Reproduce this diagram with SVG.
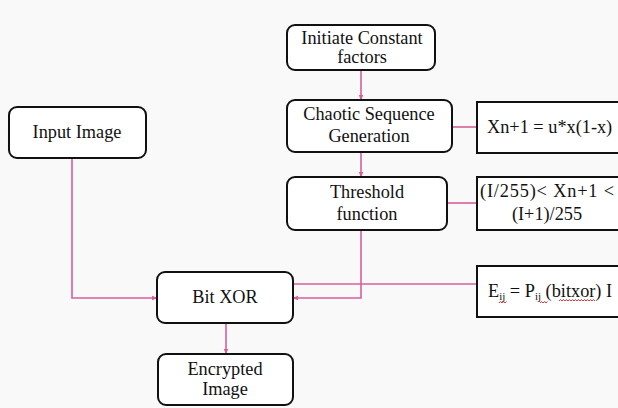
<svg xmlns="http://www.w3.org/2000/svg" width="618" height="408" viewBox="0 0 618 408">
<style>
.node{fill:#fff;stroke:#111;stroke-width:2}
.fbox{fill:#fff;stroke:#111;stroke-width:2}
.t{font-family:'Liberation Serif','Times New Roman',serif;font-size:18.3px;fill:#111}
.c{text-anchor:middle}
.con{fill:none;stroke:#d6609a;stroke-width:1.6}
.sq{fill:none;stroke:#e02020;stroke-width:0.9}
</style>
<defs>
<marker id="ah" viewBox="0 0 10 10" refX="9" refY="5" markerWidth="6" markerHeight="6" orient="auto" markerUnits="userSpaceOnUse">
<path d="M0,1 L10,5 L0,9 z" fill="#d6609a"/>
</marker>
</defs>
<rect width="618" height="408" fill="#f9f9f9"/>
<g id="connectors">
<line class="con" x1="361" y1="70" x2="361" y2="100" marker-end="url(#ah)"/>
<line class="con" x1="361" y1="152" x2="361" y2="177" marker-end="url(#ah)"/>
<line class="con" x1="452" y1="127" x2="477" y2="127"/>
<line class="con" x1="447" y1="203" x2="477" y2="203"/>
<path class="con" d="M361,230 V298 H293" marker-end="url(#ah)"/>
<path class="con" d="M72,158 V298 H157" marker-end="url(#ah)"/>
<line class="con" x1="293" y1="284" x2="477" y2="284"/>
<line class="con" x1="226" y1="323" x2="226" y2="354" marker-end="url(#ah)"/>
</g>
<g id="initiate">
<rect class="node" x="287" y="25" width="148" height="45" rx="8"/>
<text class="t c" x="362" y="44">Initiate Constant</text>
<text class="t c" x="362" y="63">factors</text>
</g>
<g id="chaotic">
<rect class="node" x="287" y="100" width="165" height="52" rx="8"/>
<text class="t c" x="369" y="120">Chaotic Sequence</text>
<text class="t c" x="369" y="142">Generation</text>
</g>
<g id="formula1">
<rect class="fbox" x="477" y="102" width="150" height="51"/>
<text class="t" x="487" y="133">Xn+1 = u*x(1-x)</text>
</g>
<g id="threshold">
<rect class="node" x="287" y="177" width="160" height="53" rx="8"/>
<text class="t c" x="367" y="198">Threshold</text>
<text class="t c" x="367" y="220">function</text>
</g>
<g id="formula2">
<rect class="fbox" x="477" y="177" width="150" height="53"/>
<text class="t" x="480" y="197" textLength="134" lengthAdjust="spacing">(I/255)&lt; Xn+1 &lt;</text>
<text class="t c" x="547" y="220">(I+1)/255</text>
</g>
<g id="input">
<rect class="node" x="9" y="107" width="137" height="51" rx="8"/>
<text class="t c" x="77" y="138">Input Image</text>
</g>
<g id="bitxor">
<rect class="node" x="157" y="272" width="136" height="51" rx="8"/>
<text class="t c" x="225" y="303">Bit XOR</text>
</g>
<g id="formula3">
<rect class="fbox" x="477" y="266" width="150" height="51"/>
<text class="t" x="488" y="297">E<tspan font-size="11" dy="3">ij</tspan><tspan dy="-3"> = P</tspan><tspan font-size="11" dy="3">ij</tspan><tspan dy="-3"> (bitxor) I</tspan></text>
<path class="sq" d="M499,303 l1.5,-1.5 l1.5,1.5 l1.5,-1.5 l1.5,1.5 l1.5,-1.5"/>
<path class="sq" d="M540,303 l1.5,-1.5 l1.5,1.5 l1.5,-1.5 l1.5,1.5 l1.5,-1.5"/>
<path class="sq" d="M559,301 l1.5,-1.5 l1.5,1.5 l1.5,-1.5 l1.5,1.5 l1.5,-1.5 l1.5,1.5 l1.5,-1.5 l1.5,1.5 l1.5,-1.5 l1.5,1.5 l1.5,-1.5 l1.5,1.5 l1.5,-1.5 l1.5,1.5 l1.5,-1.5 l1.5,1.5 l1.5,-1.5 l1.5,1.5 l1.5,-1.5 l1.5,1.5 l1.5,-1.5 l1.5,1.5 l1.5,-1.5 l1.5,1.5"/>
</g>
<g id="encrypted">
<rect class="node" x="158" y="354" width="135" height="51" rx="8"/>
<text class="t c" x="225" y="375">Encrypted</text>
<text class="t c" x="225" y="395">Image</text>
</g>
</svg>
